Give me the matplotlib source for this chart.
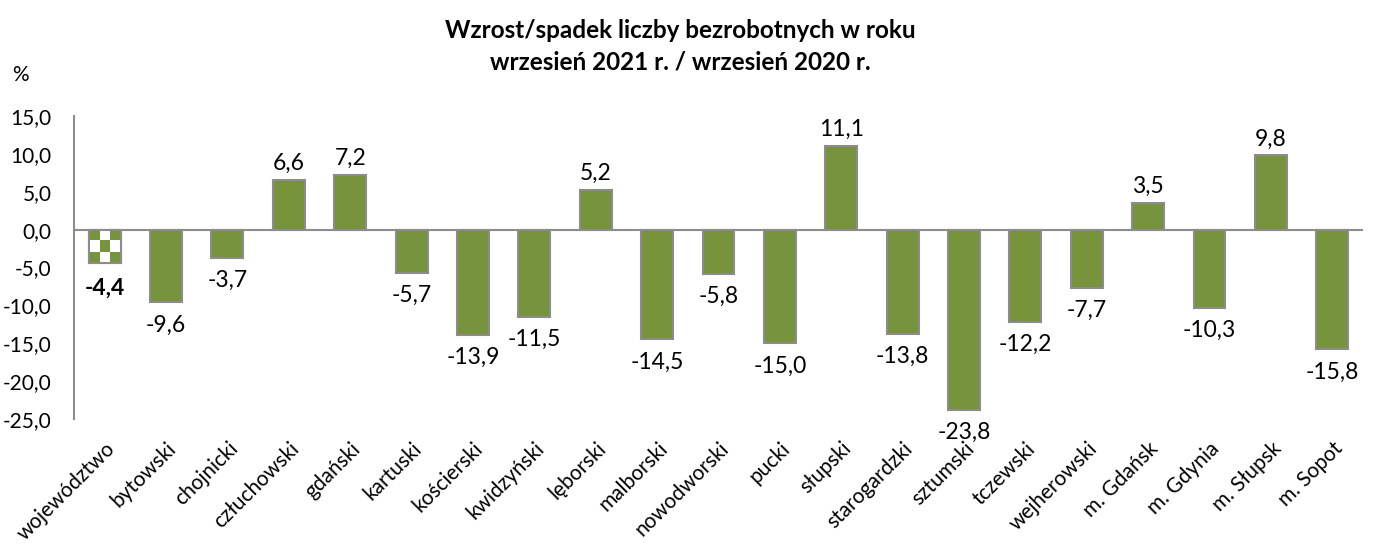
import numpy as np
import matplotlib
matplotlib.use("Agg")
import matplotlib.pyplot as plt

plt.rcParams['font.family'] = ['Lato', 'DejaVu Sans']

categories = ['województwo', 'bytowski', 'chojnicki', 'człuchowski', 'gdański',
              'kartuski', 'kościerski', 'kwidzyński', 'lęborski', 'malborski',
              'nowodworski', 'pucki', 'słupski', 'starogardzki', 'sztumski',
              'tczewski', 'wejherowski', 'm. Gdańsk', 'm. Gdynia', 'm. Słupsk',
              'm. Sopot']
values = [-4.4, -9.6, -3.7, 6.6, 7.2, -5.7, -13.9, -11.5, 5.2, -14.5,
          -5.8, -15.0, 11.1, -13.8, -23.8, -12.2, -7.7, 3.5, -10.3, 9.8, -15.8]
yticks = [15, 10, 5, 0, -5, -10, -15, -20, -25]

green = '#77933C'
edge = '#8C8C8C'

fig = plt.figure(figsize=(13.83, 5.46), dpi=100)
ax = fig.add_axes([0.0535, 0.2326, 0.932, 0.5549])

x = np.arange(len(categories))
width = 0.52
bars = ax.bar(x, values, width=width, color=green, edgecolor=edge, linewidth=1.5, zorder=2)

# first bar: checkerboard pattern
b0 = bars[0]
b0.set_facecolor('white')
x0, w0 = b0.get_x(), b0.get_width()
y0, h0 = 0, values[0]
checker = np.indices((3, 3)).sum(axis=0) % 2
ax.imshow(checker, cmap=matplotlib.colors.ListedColormap([green, 'white']),
          extent=(x0, x0 + w0, y0 + h0, y0), aspect='auto', zorder=2.5,
          clip_path=b0, interpolation='nearest')
ax.bar(x[0], values[0], width=width, fill=False, edgecolor=edge, linewidth=1.5, zorder=3)

for i, v in enumerate(values):
    lbl = f'{v:.1f}'.replace('.', ',')
    if v >= 0:
        ax.text(i, v + 0.8, lbl, ha='center', va='bottom', fontsize=16.5)
    elif i == 0:
        ax.text(i, v - 2.0, lbl, ha='center', va='top', fontsize=16.5, fontweight='bold')
    else:
        ax.text(i, v - 1.6, lbl, ha='center', va='top', fontsize=16.5)

ax.axhline(0, color=edge, linewidth=1.5, zorder=1)
ax.set_xlim(-0.5, len(categories) - 0.5)
ax.set_ylim(-25, 15)
ax.set_yticks(yticks)
ax.set_yticklabels([f'{t:.1f}'.replace('.', ',') for t in yticks], fontsize=15)
ax.set_xticks(x)
ax.set_xticklabels(categories, rotation=45, ha='right', rotation_mode='anchor', fontsize=15)
ax.tick_params(axis='both', length=0)
ax.tick_params(axis='y', pad=16)
ax.tick_params(axis='x', pad=14)
for s in ['top', 'right', 'bottom']:
    ax.spines[s].set_visible(False)
ax.spines['left'].set_color(edge)
ax.spines['left'].set_linewidth(1.5)

fig.text(0.492, 0.915, 'Wzrost/spadek liczby bezrobotnych w roku\nwrzesień 2021 r. / wrzesień 2020 r.',
         ha='center', va='center', fontsize=17.5, fontweight='bold', linespacing=1.45)
fig.text(0.009, 0.862, '%', fontsize=15, va='center')

fig.savefig('out.png', dpi=100)
